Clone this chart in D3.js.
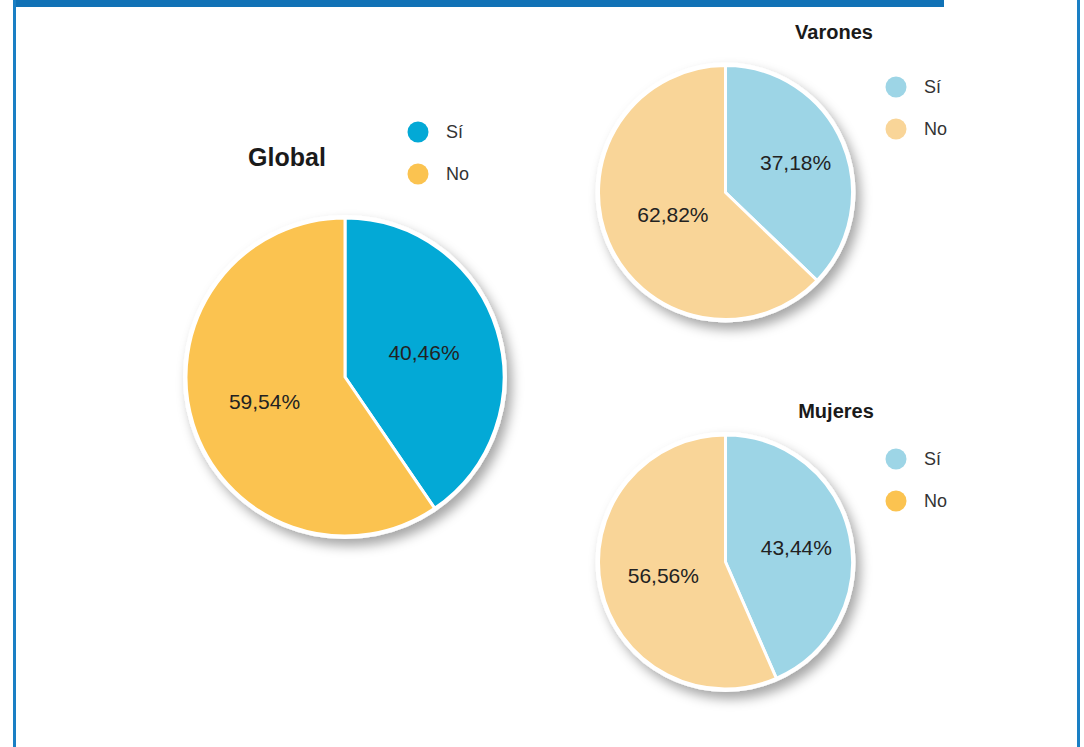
<!DOCTYPE html>
<html>
<head>
<meta charset="utf-8">
<script src="https://cdn.jsdelivr.net/npm/d3@7"></script>
<style>
  html, body { margin: 0; padding: 0; background: #fff; }
  svg { display: block; }
</style>
</head>
<body>
<svg id="chart" width="1084" height="747"></svg>
<script>
// ---- data ----
const categories = ["Sí", "No"];
const globalValues = [40.46, 59.54];
const varonesValues = [37.18, 62.82];
const mujeresValues = [43.44, 56.56];
const chartTitles = ["Global", "Varones", "Mujeres"];
const valueLabels = {
  Global: ["40,46%", "59,54%"],
  Varones: ["37,18%", "62,82%"],
  Mujeres: ["43,44%", "56,56%"]
};

// ---- styling / layout ----
const W = 1084, H = 747;
const svg = d3.select("#chart");
const font = "'Liberation Sans', Arial, sans-serif";

const defs = svg.append("defs");
const f = defs.append("filter").attr("id", "shadow")
  .attr("x", "-30%").attr("y", "-30%").attr("width", "160%").attr("height", "160%");
f.append("feDropShadow").attr("dx", 5).attr("dy", 7).attr("stdDeviation", 6)
  .attr("flood-color", "#000").attr("flood-opacity", 0.35);

// frame
svg.append("rect").attr("x", 13).attr("y", 0).attr("width", 931).attr("height", 7).attr("fill", "#1172b6");
svg.append("rect").attr("x", 13).attr("y", 0).attr("width", 3).attr("height", H).attr("fill", "#1a7fc4");
svg.append("rect").attr("x", 1077).attr("y", 0).attr("width", 3).attr("height", H).attr("fill", "#1a7fc4");

const charts = [
  { title: chartTitles[0], values: globalValues, cx: 345, cy: 377, r: 159,
    colors: ["#03a9d6", "#fbc350"], legendColors: ["#03a9d6", "#fbc350"],
    titlePos: [287, 157], titleSize: 25, legendPos: [418, 132], labelF: [0.52, 0.53] },
  { title: chartTitles[1], values: varonesValues, cx: 725.5, cy: 192.5, r: 127,
    colors: ["#9dd5e6", "#f9d598"], legendColors: ["#9dd5e6", "#f9d598"],
    titlePos: [834, 32], titleSize: 20, legendPos: [896, 87], labelF: [0.6, 0.45] },
  { title: chartTitles[2], values: mujeresValues, cx: 725.5, cy: 562, r: 127,
    colors: ["#9dd5e6", "#f9d598"], legendColors: ["#9dd5e6", "#fbc350"],
    titlePos: [836, 411], titleSize: 20, legendPos: [896, 459], labelF: [0.57, 0.5] }
];

const pie = d3.pie().sort(null).value(d => d);

charts.forEach(c => {
  const g = svg.append("g").attr("transform", `translate(${c.cx},${c.cy})`);
  // white disc with shadow (border)
  g.append("circle").attr("r", c.r + 3).attr("fill", "#fff").attr("filter", "url(#shadow)");
  const arcs = pie(c.values);
  const arc = d3.arc().innerRadius(0).outerRadius(c.r);
  g.selectAll("path.slice").data(arcs).enter().append("path")
    .attr("class", "slice")
    .attr("d", arc)
    .attr("fill", (d, i) => c.colors[i])
    .attr("stroke", "#fff").attr("stroke-width", 3).attr("stroke-linejoin", "round");
  const labels = valueLabels[c.title];
  g.selectAll("text.val").data(arcs).enter().append("text")
    .attr("class", "val")
    .attr("transform", (d, i) => {
      const la = d3.arc().innerRadius(0).outerRadius(c.r * c.labelF[i] * 2);
      const p = la.centroid(d);
      return `translate(${p[0]},${p[1]})`;
    })
    .attr("text-anchor", "middle").attr("dy", "0.36em")
    .style("font-family", font).style("font-size", "21px").attr("fill", "#222")
    .text((d, i) => labels[i]);

  // title
  svg.append("text").attr("x", c.titlePos[0]).attr("y", c.titlePos[1])
    .attr("text-anchor", "middle").attr("dy", "0.36em")
    .style("font-family", font).style("font-weight", "bold")
    .style("font-size", c.titleSize + "px").attr("fill", "#1a1a1a")
    .text(c.title);

  // legend
  const lg = svg.append("g").attr("transform", `translate(${c.legendPos[0]},${c.legendPos[1]})`);
  categories.forEach((cat, i) => {
    lg.append("circle").attr("cx", 0).attr("cy", i * 42).attr("r", 10.5).attr("fill", c.legendColors[i]);
    lg.append("text").attr("x", 28).attr("y", i * 42).attr("dy", "0.36em")
      .style("font-family", font).style("font-size", "18px").attr("fill", "#333")
      .text(cat);
  });
});
</script>
</body>
</html>
